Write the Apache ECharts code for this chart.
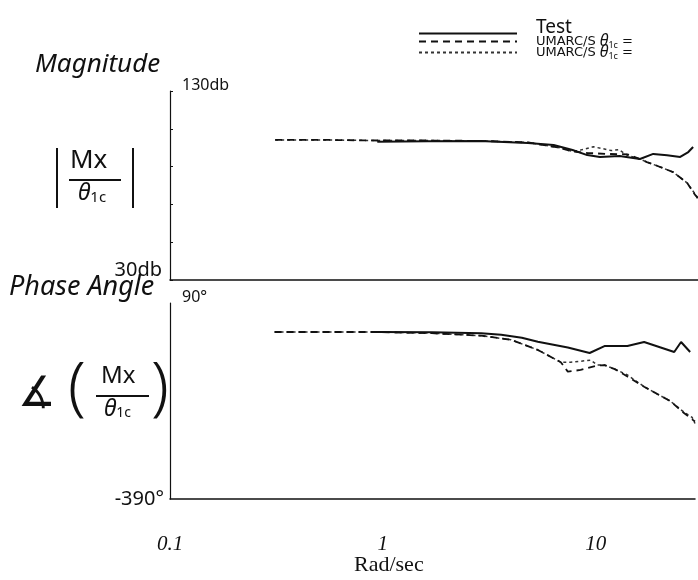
<!DOCTYPE html>
<html>
<head>
<meta charset="utf-8">
<script src="https://cdn.jsdelivr.net/npm/echarts@6/dist/echarts.min.js"></script>
<style>
  html, body { margin: 0; padding: 0; background: #fff; }
  #chart { width: 698px; height: 580px; }
</style>
</head>
<body>
<div id="chart"></div>
<script>
// Frequency axis ticks (rad/sec) and panel end labels
const xTickValues = [0.1, 1, 10];
const xTickLabels = ['0.1', '1', '10'];
const magTickLabels = ['30db', '130db'];
const phaseTickLabels = ['-390°', '90°'];

// Series names
const seriesNames = ['Test', 'UMARC/S A', 'UMARC/S B'];

// Test — magnitude (db)
const testMagFreq = [0.93, 1.6, 2.8, 4.7, 6.2, 7.6, 8.9, 10.2, 12.6, 15.7, 18.1, 21.0, 24.2, 26.4, 27.8];
const testMag     = [103.2, 103.4, 103.5, 102.5, 101.4, 98.8, 96.1, 95.1, 95.6, 94.0, 96.7, 96.0, 95.1, 97.7, 100.4];
// Test — phase (deg)
const testPhaseFreq = [0.93, 1.7, 2.9, 3.6, 4.5, 5.35, 7.4, 9.37, 11.0, 14.1, 16.9, 23.4, 25.2, 27.8];
const testPhase     = [19, 18.5, 16, 12, 5, -5, -19, -32.5, -15.4, -15.4, -5.6, -30, -5.6, -30];

// UMARC/S (long dash) — magnitude
const umarcAMagFreq = [0.31, 0.55, 0.93, 1.6, 2.8, 4.7, 6.6, 7.6, 8.9, 11.0, 13.7, 15.7, 16.9, 19.5, 22.4, 26.1, 28.4, 29.3];
const umarcAMag     = [104.1, 104.1, 103.8, 103.8, 103.6, 102.8, 100.0, 98.0, 97.2, 96.7, 96.5, 94.0, 92.4, 89.8, 87.1, 81.3, 75.0, 73.5];
// UMARC/S (long dash) — phase
const umarcAPhaseFreq = [0.31, 0.55, 0.93, 1.7, 2.9, 4.0, 5.35, 6.86, 7.4, 8.5, 10.2, 11.0, 12.3, 14.1, 16.9, 19.5, 22.4, 26.1, 28.4, 29.3];
const umarcAPhase     = [19, 19, 19, 16, 10, 0, -25, -55, -78, -74, -63, -62, -72, -90, -115, -133, -150, -180, -195, -200];

// UMARC/S (short dash) — magnitude
const umarcBMagFreq = [0.31, 0.55, 0.93, 1.6, 2.8, 4.7, 6.6, 7.6, 8.5, 9.5, 10.5, 11.5, 12.5, 13.7, 15.7, 16.9, 19.5, 22.4, 26.1, 28.4, 29.3];
const umarcBMag     = [104.1, 104.1, 103.8, 103.8, 103.6, 102.8, 100.0, 98.0, 99.0, 100.5, 99.5, 98.5, 99.0, 96.0, 94.0, 92.4, 89.8, 87.1, 81.3, 75.5, 72.5];
// UMARC/S (short dash) — phase
const umarcBPhaseFreq = [0.31, 0.55, 0.93, 1.7, 2.9, 4.0, 5.35, 6.86, 7.64, 9.47, 10.2, 11.0, 12.3, 14.1, 16.9, 19.5, 22.4, 26.1, 28.4, 29.3];
const umarcBPhase     = [19, 19, 19, 16, 10, 0, -25, -55, -55, -50, -62, -62, -72, -86, -115, -133, -150, -178, -190, -205];

const pairs = (xs, ys) => xs.map((x, i) => [x, ys[i]]);

const ink = '#111';
const hand = '"Noto Sans", "DejaVu Sans", sans-serif';
const caps = '"DejaVu Sans", sans-serif';

const lineStyles = [
  { color: ink, width: 2, type: 'solid' },
  { color: ink, width: 1.8, type: [7, 5] },
  { color: '#333', width: 1.5, type: [3, 3] }
];

function makeSeries(idx, data, panel) {
  return {
    name: seriesNames[idx],
    type: 'line',
    xAxisIndex: panel,
    yAxisIndex: panel,
    data: data,
    symbol: 'none',
    silent: true,
    z: 3 - idx,
    itemStyle: { color: lineStyles[idx].color },
    lineStyle: lineStyles[idx]
  };
}

function xLabel(v) {
  for (let i = 0; i < xTickValues.length; i++) {
    if (Math.abs(Math.log10(v) - Math.log10(xTickValues[i])) < 1e-6) return xTickLabels[i];
  }
  return '';
}

function xAxisCfg(grid, showLabels) {
  return {
    type: 'log',
    logBase: 10,
    gridIndex: grid,
    min: 0.1,
    max: 29.3,
    axisLine: { show: true, onZero: false, lineStyle: { color: ink, width: 1.5 } },
    axisTick: { show: false },
    splitLine: { show: false },
    minorSplitLine: { show: false },
    axisLabel: showLabels ? {
      show: true,
      margin: 35,
      formatter: xLabel,
      color: ink,
      fontFamily: '"Liberation Serif", serif',
      fontStyle: 'italic',
      fontSize: 21
    } : { show: false }
  };
}

// One legend block per series so each row sits at its own height
const umarcText = '{u|UMARC/S }{q|θ}{s|1c}{u| =}';
const legendRich = {
  t: { fontFamily: hand, fontSize: 19, lineHeight: 10 },
  u: { fontFamily: caps, fontSize: 13, lineHeight: 10 },
  q: { fontFamily: hand, fontSize: 16, fontStyle: 'italic', lineHeight: 10 },
  s: { fontFamily: hand, fontSize: 9, lineHeight: 10, padding: [8, 0, 0, 0] }
};
function legendBlock(name, top, padBottom) {
  return {
    orient: 'vertical',
    left: 418,
    top: top,
    itemWidth: 98,
    itemHeight: 6,
    itemGap: 0,
    padding: 0,
    data: [name],
    selectedMode: false,
    itemStyle: { color: 'rgba(0,0,0,0)', borderWidth: 0, opacity: 0 },
    formatter: n => (n === 'Test' ? '{t|Test}' : umarcText),
    textStyle: { color: ink, lineHeight: 10, padding: [0, 0, padBottom, 14], rich: legendRich }
  };
}

const chart = echarts.init(document.getElementById('chart'), null, { renderer: 'canvas' });

const option = {
  backgroundColor: '#fff',
  animation: false,
  grid: [
    { left: 170, top: 91, width: 528, height: 189 },
    { left: 170, top: 303, width: 528, height: 196 }
  ],
  legend: [
    legendBlock(seriesNames[0], 18, 12),
    legendBlock(seriesNames[1], 33, 0),
    legendBlock(seriesNames[2], 44, 0)
  ],
  xAxis: [xAxisCfg(0, false), xAxisCfg(1, true)],
  yAxis: [
    {
      type: 'value',
      gridIndex: 0,
      min: 30,
      max: 130,
      interval: 20,
      axisLine: { show: true, lineStyle: { color: ink, width: 1.2 } },
      axisTick: { show: true, inside: true, length: 3, lineStyle: { color: ink } },
      splitLine: { show: false },
      axisLabel: {
        formatter: v => (v === 30 ? magTickLabels[0] : ''),
        color: ink, fontFamily: hand, fontSize: 20, margin: 8, verticalAlign: 'bottom'
      },
      name: magTickLabels[1],
      nameLocation: 'end',
      nameGap: 6,
      nameTextStyle: { color: ink, fontFamily: hand, fontSize: 16, align: 'left', verticalAlign: 'middle', padding: [0, 0, 0, 12] }
    },
    {
      type: 'value',
      gridIndex: 1,
      min: -390,
      max: 90,
      interval: 30,
      axisLine: { show: true, lineStyle: { color: ink, width: 1.2 } },
      axisTick: { show: false },
      splitLine: { show: false },
      axisLabel: {
        formatter: v => (v === -390 ? phaseTickLabels[0] : ''),
        color: ink, fontFamily: hand, fontSize: 20, margin: 6
      },
      name: phaseTickLabels[1],
      nameLocation: 'end',
      nameGap: 6,
      nameTextStyle: { color: ink, fontFamily: hand, fontSize: 16, align: 'left', verticalAlign: 'middle', padding: [0, 0, 0, 12] }
    }
  ],
  series: [
    makeSeries(0, pairs(testMagFreq, testMag), 0),
    makeSeries(1, pairs(umarcAMagFreq, umarcAMag), 0),
    makeSeries(2, pairs(umarcBMagFreq, umarcBMag), 0),
    makeSeries(0, pairs(testPhaseFreq, testPhase), 1),
    makeSeries(1, pairs(umarcAPhaseFreq, umarcAPhase), 1),
    makeSeries(2, pairs(umarcBPhaseFreq, umarcBPhase), 1)
  ],
  graphic: [
    // x-axis title
    { type: 'text', left: 354, top: 554, style: { text: 'Rad/sec', fill: ink, font: '22px "Liberation Serif", serif' } },
    // Magnitude panel label
    { type: 'text', left: 35, top: 52, style: { text: 'Magnitude', fill: ink, font: 'italic 26px ' + hand } },
    { type: 'line', shape: { x1: 57, y1: 148, x2: 57, y2: 208 }, style: { stroke: ink, lineWidth: 2 } },
    { type: 'line', shape: { x1: 133, y1: 148, x2: 133, y2: 208 }, style: { stroke: ink, lineWidth: 2 } },
    { type: 'text', left: 70, top: 148, style: { text: 'Mx', fill: ink, font: '26px ' + hand } },
    { type: 'line', shape: { x1: 69, y1: 180, x2: 121, y2: 180 }, style: { stroke: ink, lineWidth: 2 } },
    { type: 'text', left: 78, top: 182, style: { rich: { a: { font: 'italic 23px ' + hand, fill: ink }, b: { font: '15px ' + hand, fill: ink, padding: [8, 0, 0, 0] } }, text: '{a|θ}{b|1c}' } },
    // Phase panel label
    { type: 'text', left: 9, top: 274, style: { text: 'Phase Angle', fill: ink, font: 'italic 27px ' + hand } },
    { type: 'text', left: 18, top: 374, style: { text: '∡', fill: ink, font: '42px "DejaVu Sans", sans-serif' } },
    { type: 'text', left: 68, top: 358, style: { text: '(', fill: ink, font: '300 64px ' + hand } },
    { type: 'text', left: 151, top: 358, style: { text: ')', fill: ink, font: '300 64px ' + hand } },
    { type: 'text', left: 101, top: 364, style: { text: 'Mx', fill: ink, font: '24px ' + hand } },
    { type: 'line', shape: { x1: 96, y1: 396, x2: 149, y2: 396 }, style: { stroke: ink, lineWidth: 2 } },
    { type: 'text', left: 104, top: 398, style: { rich: { a: { font: 'italic 23px ' + hand, fill: ink }, b: { font: '14px ' + hand, fill: ink, padding: [8, 0, 0, 0] } }, text: '{a|θ}{b|1c}' } }
  ]
};

chart.setOption(option);
</script>
</body>
</html>
